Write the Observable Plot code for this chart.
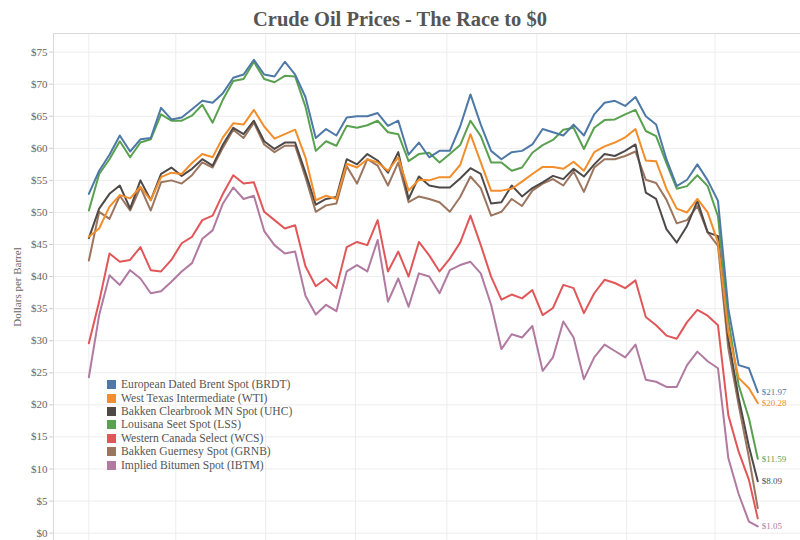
<!DOCTYPE html>
<html><head><meta charset="utf-8">
<script src="https://cdn.jsdelivr.net/npm/d3@7"></script>
<script src="https://cdn.jsdelivr.net/npm/@observablehq/plot@0.6"></script>
<style>
body{margin:0;background:#fff;}
#wrap{position:relative;width:800px;height:540px;overflow:hidden;font-family:"Liberation Serif",serif;background:#fff;}
#title{height:33px;text-align:center;font-weight:bold;font-size:20.5px;color:#555;line-height:38px;}
#legend{position:absolute;left:107px;top:378px;font-size:11.6px;color:#555;}
.row{height:13.4px;display:flex;align-items:center;white-space:nowrap;}
.sw{width:9px;height:9px;margin-right:5px;flex:none;}
</style></head><body>
<div id="wrap"><div id="title">Crude Oil Prices - The Race to $0</div><div id="chart"></div><div id="legend"></div></div>
<script>
const dates = [
"2019-01-01","2019-01-08","2019-01-15","2019-01-22","2019-01-29","2019-02-05","2019-02-12","2019-02-19","2019-02-26","2019-03-05",
"2019-03-12","2019-03-19","2019-03-26","2019-04-02","2019-04-09","2019-04-16","2019-04-23","2019-04-30","2019-05-07","2019-05-14",
"2019-05-21","2019-05-28","2019-06-04","2019-06-11","2019-06-18","2019-06-25","2019-07-02","2019-07-09","2019-07-16","2019-07-23",
"2019-07-30","2019-08-06","2019-08-13","2019-08-20","2019-08-27","2019-09-03","2019-09-10","2019-09-17","2019-09-24","2019-10-01",
"2019-10-08","2019-10-15","2019-10-22","2019-10-29","2019-11-05","2019-11-12","2019-11-19","2019-11-26","2019-12-03","2019-12-10",
"2019-12-17","2019-12-24","2019-12-31","2020-01-07","2020-01-14","2020-01-21","2020-01-28","2020-02-04","2020-02-11","2020-02-18",
"2020-02-25","2020-03-03","2020-03-10","2020-03-17","2020-03-24","2020-03-30"];

const seriesCodes = ["BRDT","WTI","UHC","LSS","WCS","GRNB","IBTM"];
const seriesNames = ["European Dated Brent Spot (BRDT)","West Texas Intermediate (WTI)","Bakken Clearbrook MN Spot (UHC)","Louisana Seet Spot (LSS)","Western Canada Select (WCS)","Bakken Guernesy Spot (GRNB)","Implied Bitumen Spot (IBTM)"];
const seriesColors = ["#4e79a7","#f28e2b","#4f4a48","#59a14f","#e15759","#9c755f","#b07aa1"];

const BRDT = [
52.9,56.5,59.0,62.0,59.5,61.4,61.6,66.3,64.5,64.8,
66.1,67.4,67.1,68.6,71.0,71.5,73.8,71.5,71.2,73.5,
71.5,68.0,61.6,63.0,62.0,64.8,65.0,65.0,65.5,63.5,
64.3,59.0,60.9,58.6,59.6,59.6,63.4,68.4,63.7,59.6,
58.3,59.4,59.6,60.6,63.0,62.5,62.0,63.7,62.0,65.3,
67.1,67.4,66.6,68.0,65.0,63.7,58.3,54.1,55.1,57.5,
55.0,51.8,35.0,26.2,25.7,21.97];
const LSS = [
50.3,56.0,58.3,61.1,58.6,60.9,61.4,65.3,64.3,64.3,
65.1,66.8,64.0,67.6,70.5,70.8,73.5,70.8,70.3,71.3,
71.2,66.5,59.6,61.1,60.4,63.5,63.2,63.6,64.3,62.5,
62.2,58.0,59.1,59.3,57.8,59.1,60.5,64.3,61.9,57.8,
57.8,56.5,57.0,59.3,60.5,61.3,62.9,63.2,59.9,63.2,
64.4,64.5,65.3,66.0,62.7,61.9,57.7,53.7,54.1,55.8,
54.1,49.4,33.4,23.1,17.9,11.59];
const WTI = [
46.2,47.5,50.9,52.7,52.2,54.0,51.9,55.5,56.2,56.0,
57.7,59.1,58.6,61.7,63.9,63.7,66.0,63.4,61.5,62.2,
62.9,58.6,51.9,52.6,52.1,57.6,57.0,58.3,57.8,56.5,
58.6,53.4,55.1,55.0,55.5,55.5,57.4,62.2,57.8,53.4,
53.4,53.7,54.8,56.0,57.1,57.1,56.8,57.9,56.5,59.4,
60.3,60.9,61.7,63.0,58.1,58.0,53.7,50.6,50.0,52.1,
50.0,45.3,31.4,24.2,22.6,20.28];
const UHC = [
46.0,50.6,52.9,54.2,50.6,55.0,51.9,56.0,57.0,55.7,
56.8,58.3,57.3,60.6,63.2,62.2,64.3,61.1,59.9,60.9,
60.9,56.2,51.2,52.1,52.4,58.3,57.5,59.1,58.1,56.2,
59.4,52.1,55.6,54.2,53.9,53.9,55.3,56.9,56.0,51.4,
51.6,54.2,52.5,53.8,54.7,55.7,55.2,56.8,55.6,57.5,
59.1,58.8,59.6,60.6,53.1,52.1,47.4,45.3,47.9,51.8,
46.9,46.3,30.3,21.1,13.5,8.09];
const GRNB = [
42.5,50.1,49.0,52.6,50.3,53.9,50.3,54.7,55.0,54.5,
55.8,57.8,57.0,60.1,62.9,61.6,64.0,60.6,59.4,60.4,
60.4,55.5,50.1,51.1,51.4,57.2,54.5,58.3,57.3,54.2,
57.8,51.6,52.5,52.1,51.6,50.1,52.4,55.6,53.8,49.5,
50.1,52.1,51.0,53.4,54.5,55.2,54.2,56.4,53.2,57.0,
58.3,58.3,58.8,59.5,55.1,54.6,52.0,48.3,48.8,51.0,
46.9,44.8,28.8,20.0,11.8,3.9];
const WCS = [
29.6,36.1,43.6,42.3,42.6,44.6,41.0,40.8,42.6,45.2,
46.2,48.8,49.5,52.9,55.8,54.5,54.7,50.1,48.8,47.5,
48.0,41.6,38.5,39.7,38.2,44.6,45.4,44.9,48.8,40.8,
43.9,40.0,45.4,43.3,40.8,42.8,45.3,49.5,44.9,40.0,
36.4,37.2,36.6,37.9,34.0,35.1,38.7,38.2,34.3,37.4,
39.5,39.0,38.2,39.4,33.7,32.4,30.8,30.3,32.9,34.8,
33.9,32.4,18.4,12.7,8.3,2.3];
const IBTM = [
24.3,34.0,40.2,38.7,41.0,39.7,37.4,37.7,39.2,40.8,
42.1,45.9,47.2,51.4,53.9,52.1,52.6,47.1,44.9,43.6,
43.9,37.0,34.1,35.6,34.6,40.8,41.8,40.8,45.7,36.1,
39.7,35.3,40.5,40.0,37.4,41.0,41.8,42.3,40.5,35.6,
28.7,31.0,30.5,32.3,25.3,27.4,33.0,30.5,24.0,27.4,
29.4,28.4,27.4,29.4,23.9,23.6,22.8,22.8,26.2,28.3,
26.8,25.7,11.7,6.1,1.8,1.05];

const yTicks = [0,5,10,15,20,25,30,35,40,45,50,55,60,65,70,75];
const gridDates = ["2019-01-01","2019-03-01","2019-05-01","2019-07-01","2019-09-01","2019-11-01","2020-01-01","2020-03-01"];
const labeledSeries = ["BRDT","WTI","LSS","UHC","IBTM"];

const valuesByCode = {BRDT, WTI, UHC, LSS, WCS, GRNB, IBTM};
const rows = [];
seriesCodes.slice().reverse().forEach(code => {
  valuesByCode[code].forEach((v, i) => rows.push({date: new Date(dates[i]), value: v, series: code}));
});
const lastDate = new Date(dates[dates.length - 1]);
const endLabels = labeledSeries.map(code => {
  const v = valuesByCode[code][valuesByCode[code].length - 1];
  return {date: lastDate, value: v, series: code, label: "$" + v.toFixed(2)};
});

const chart = Plot.plot({
  width: 800, height: 507,
  marginLeft: 53, marginRight: 0, marginTop: 0, marginBottom: 0,
  style: {fontFamily: "Liberation Serif, serif", fontSize: "11px", color: "#666", background: "#fff", overflow: "visible"},
  x: {type: "utc", domain: [new Date("2018-12-08"), new Date("2020-04-28")], axis: null},
  y: {domain: [-1.15, 77.9], axis: null},
  color: {domain: seriesCodes, range: seriesColors},
  marks: [
    Plot.ruleY(yTicks, {stroke: "#ededed"}),
    Plot.ruleX(gridDates.map(d => new Date(d)), {stroke: "#ededed"}),
    Plot.frame({stroke: "#d9d9d9"}),
    Plot.axisY(yTicks, {tickFormat: d => "$" + d, tickSize: 4, tickPadding: 2, stroke: "#cfcfcf", fill: "#666",
      label: "Dollars per Barrel", labelAnchor: "center", labelArrow: "none", labelOffset: 40}),
    Plot.line(rows, {x: "date", y: "value", z: "series", stroke: "series", strokeWidth: 2, strokeLinejoin: "round"}),
    Plot.text(endLabels, {x: "date", y: "value", text: "label", fill: "series", dx: 4, textAnchor: "start", fontSize: 9})
  ]
});
document.getElementById("chart").appendChild(chart);

const legend = document.getElementById("legend");
seriesCodes.forEach((code, i) => {
  const row = document.createElement("div");
  row.className = "row";
  const sw = document.createElement("span");
  sw.className = "sw";
  sw.style.background = seriesColors[i];
  const t = document.createElement("span");
  t.textContent = seriesNames[i];
  row.appendChild(sw); row.appendChild(t);
  legend.appendChild(row);
});
</script>
</body></html>
